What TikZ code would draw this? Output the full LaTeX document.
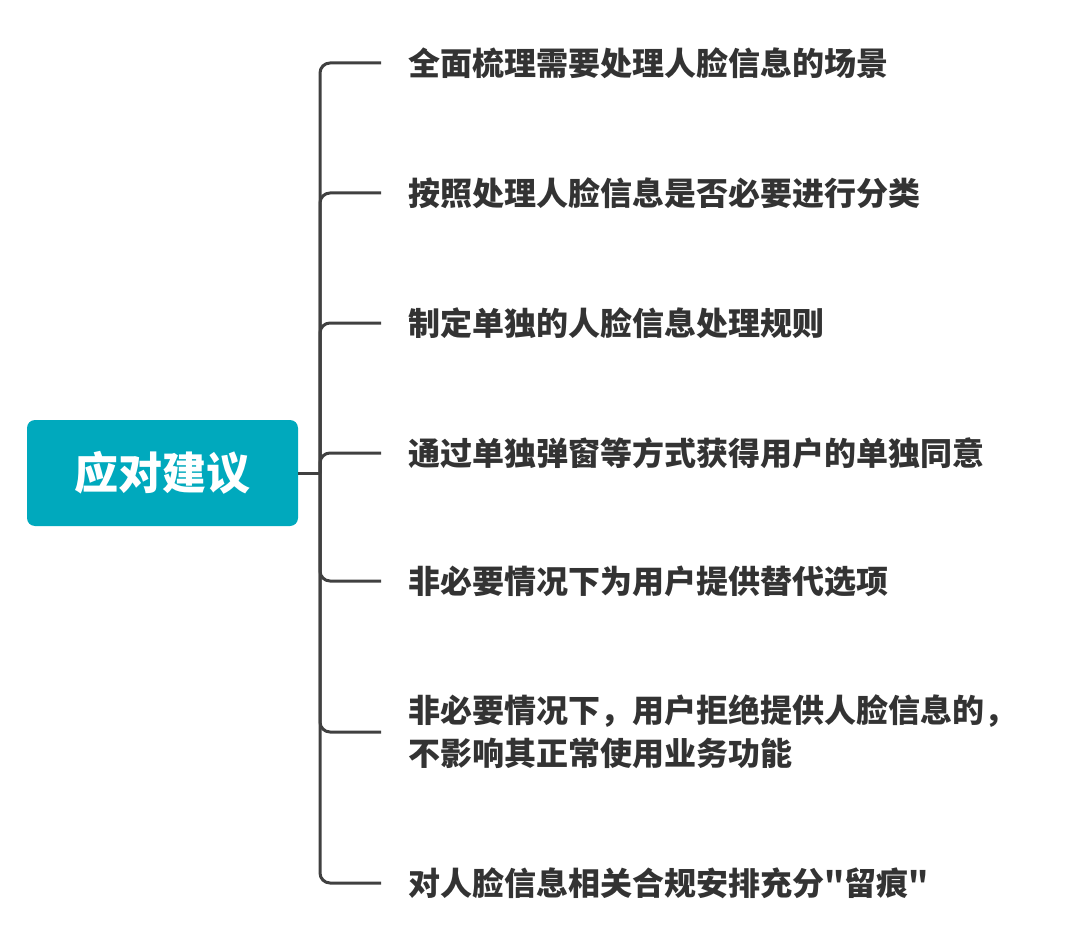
\documentclass[tikz,border=0pt]{standalone}
\usepackage{fontspec}
\newfontfamily\cjk{Noto Sans CJK SC}
\definecolor{rootteal}{RGB}{0,169,189}
\definecolor{textgray}{RGB}{51,51,51}
\definecolor{linegray}{RGB}{64,64,64}
\begin{document}
\begin{tikzpicture}
[
    x=1pt, y=-1pt,
    topic/.style={fill=rootteal, rounded corners=8pt, minimum width=271pt, minimum height=106pt, text=white, font=\cjk\bfseries\fontsize{44}{52}\selectfont},
    item/.style={anchor=west, inner sep=0pt, text=textgray, align=left, font=\cjk\bfseries\fontsize{32}{43}\selectfont},
    link/.style={draw=linegray, line width=3pt, rounded corners=10pt}
]
    \useasboundingbox (0,0) rectangle (1080,947);

    \node [topic] (root) at (162.5,473) {应对建议};
    \coordinate (trunk) at (320,473);

    \node [item] (s1) at (408,63) {全面梳理需要处理人脸信息的场景};
    \node [item] (s2) at (408,193) {按照处理人脸信息是否必要进行分类};
    \node [item] (s3) at (408,323) {制定单独的人脸信息处理规则};
    \node [item] (s4) at (408,453) {通过单独弹窗等方式获得用户的单独同意};
    \node [item] (s5) at (408,581) {非必要情况下为用户提供替代选项};
    \node [item] (s6) at (408,732) {非必要情况下，用户拒绝提供人脸信息的，\\不影响其正常使用业务功能};
    \node [item] (s7) at (408,883) {对人脸信息相关合规安排充分"留痕"};

    \draw [link] (root.east) -- (trunk);
    \foreach \s in {s1,s2,s3,s4,s5,s6,s7}
        \draw [link] ([xshift=-27pt]\s.west) -| (trunk);
\end{tikzpicture}
\end{document}
